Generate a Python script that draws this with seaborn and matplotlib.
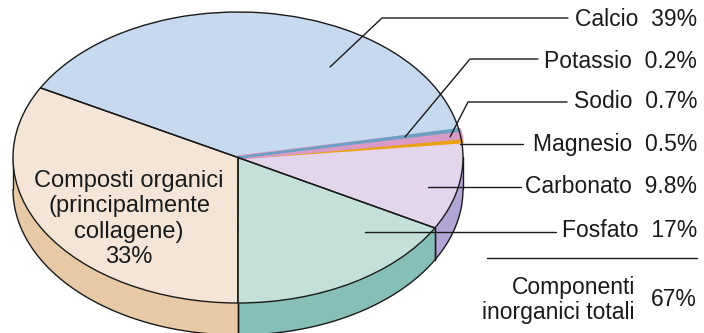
import numpy as np
import matplotlib
matplotlib.use("Agg")
import matplotlib.pyplot as plt
import seaborn as sns
from matplotlib.patches import Polygon

# ---- data ----
names = ["Composti organici\n(principalmente\ncollagene)\n33%", "Fosfato", "Carbonato",
         "Magnesio", "Sodio", "Potassio", "Calcio"]
values = [33, 17, 9.8, 0.5, 0.7, 0.2, 39]
label_names = ["Calcio", "Potassio", "Sodio", "Magnesio", "Carbonato", "Fosfato"]
label_pcts = ["39%", "0.2%", "0.7%", "0.5%", "9.8%", "17%"]
total_label = "Componenti\ninorganici totali"
total_pct = "67%"

# ---- style ----
top_colors = ["#f4e5d7", "#c4e0d9", "#e3d5eb", "#e9a110", "#d99bc6", "#6b9fc4", "#c6d9ee"]
side_colors = ["#e7c9a5", "#86bfb7", "#b2a6d6", "#e9a110", "#d99bc6", "#6b9fc4", "#aebfd8"]
edge_widths = [0, 0, 0, 2.6, 3.4, 1.5, 0]
z_small = [3, 3, 3, 3.4, 3.5, 3.7, 3]

sns.set_theme(style="white")
plt.rcParams['font.family'] = ['Liberation Sans', 'DejaVu Sans']

W, H = 704, 333
fig = plt.figure(figsize=(W / 100, H / 100), dpi=100)
ax = fig.add_axes([0, 0, 1, 1])

cx_px, cy_px, a_px, b_px = 238, 157.5, 225, 145.5
depth = 32 / b_px
start = 151.4
FS = 16.5

# top face
wedges, _ = ax.pie(values, colors=top_colors, startangle=start, counterclock=True,
                   wedgeprops=dict(linewidth=0), radius=1, center=(0, 0))
for w, c, lw, z in zip(wedges, top_colors, edge_widths, z_small):
    w.set_zorder(z)
    if lw:
        w.set_edgecolor(c)
        w.set_linewidth(lw)
# outlines for main boundaries
outline_vals = [values[0], values[1], sum(values[2:6]) + values[6]]
ow, _ = ax.pie(outline_vals, startangle=start, counterclock=True,
               wedgeprops=dict(fill=False, edgecolor="#1a1a1a", linewidth=1.0), radius=1)
for w in ow:
    w.set_zorder(4)

# side (front half visible)
tot = sum(values)
cum = start
for v, sc in zip(values, side_colors):
    t0, t1 = cum, cum + v / tot * 360
    cum = t1
    for off in (0, 360):
        lo, hi = max(t0 - off, 180), min(t1 - off, 360)
        if hi > lo:
            t = np.radians(np.linspace(lo, hi, 80))
            xs, ys = np.cos(t), np.sin(t)
            pts = np.concatenate([np.c_[xs, ys], np.c_[xs[::-1], ys[::-1] - depth]])
            ax.add_patch(Polygon(pts, closed=True, facecolor=sc, edgecolor="none", zorder=1))
            for tt in (lo, hi):
                if 180 < tt < 360:
                    r = np.radians(tt)
                    ax.plot([np.cos(r)] * 2, [np.sin(r), np.sin(r) - depth],
                            color="#1a1a1a", lw=1.0, zorder=2)
tb = np.radians(np.linspace(180, 360, 200))
ax.plot(np.cos(tb), np.sin(tb) - depth, color="#1a1a1a", lw=1.0, zorder=2)
ax.plot([-1, -1], [0, -depth], color="#1a1a1a", lw=1.0, zorder=2)
ax.plot([1, 1], [0, -depth], color="#1a1a1a", lw=1.0, zorder=2)

ax.set_aspect("auto")
ax.set_xlim(-cx_px / a_px, (W - cx_px) / a_px)
ax.set_ylim(-(H - cy_px) / b_px, cy_px / b_px)
ax.axis("off")

def P(x, y):
    return ((x - cx_px) / a_px, (cy_px - y) / b_px)

# organic label
ax.text(*P(129, 219), names[0], ha="center", va="center", fontsize=FS + 0.5,
        color="#1a1a1a", linespacing=1.2, zorder=6)

# right labels with leader lines
label_y = [19, 61, 102, 145, 187, 231]
leaders = [
    [(330, 67), (382, 18), (568, 18)],
    [(405, 137), (470, 59), (538, 59)],
    [(450, 137), (468, 102), (567, 102)],
    [(460, 144), (523, 144)],
    [(428, 187), (521, 187)],
    [(365, 232), (556, 232)],
]
for nm, pc, y, ld in zip(label_names, label_pcts, label_y, leaders):
    ax.text(*P(697, y), f"{nm}  {pc}", ha="right", va="center", fontsize=FS,
            color="#1a1a1a", zorder=6)
    pts = np.array([P(*p) for p in ld])
    ax.plot(pts[:, 0], pts[:, 1], color="#1a1a1a", lw=1.0, zorder=5)

sep = np.array([P(487, 258), P(697, 258)])
ax.plot(sep[:, 0], sep[:, 1], color="#1a1a1a", lw=1.0, zorder=5)
ax.text(*P(635, 300), total_label, ha="right", va="center", fontsize=FS,
        color="#1a1a1a", linespacing=1.1, multialignment="right", zorder=6)
ax.text(*P(697, 300), total_pct, ha="right", va="center", fontsize=FS,
        color="#1a1a1a", zorder=6)

fig.savefig("out.png", dpi=100)
